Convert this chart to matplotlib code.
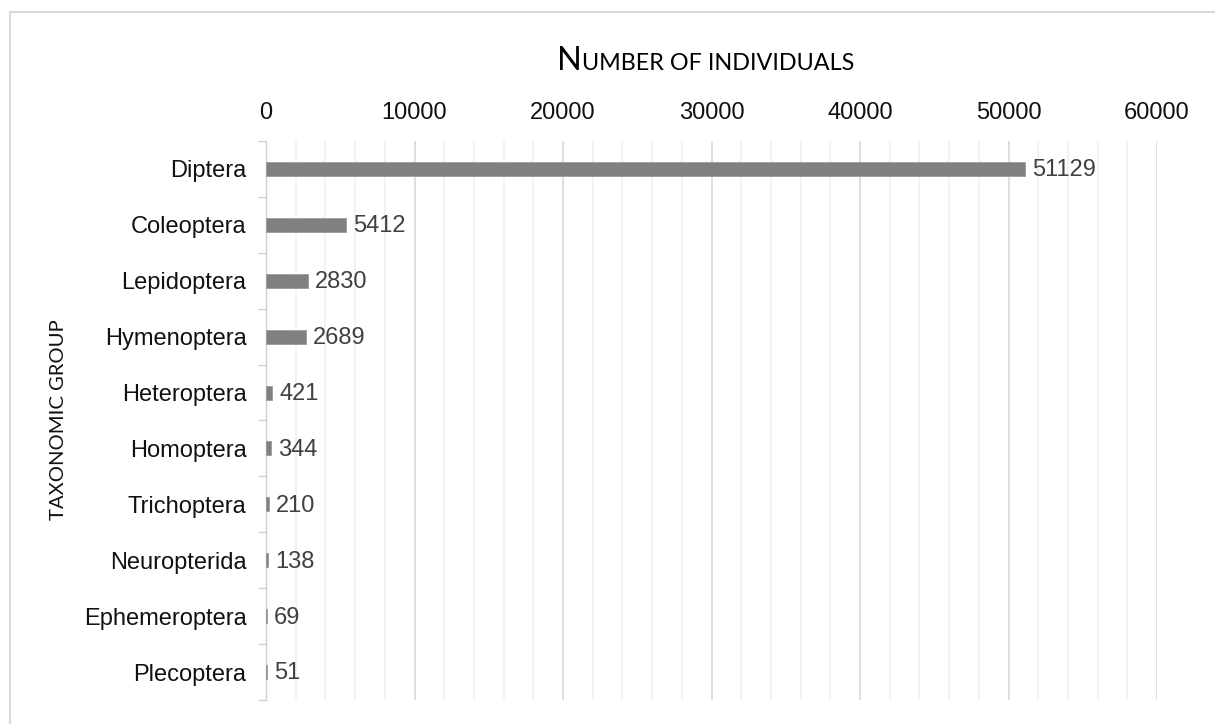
import matplotlib.pyplot as plt
import numpy as np
from matplotlib.offsetbox import TextArea, HPacker, AnnotationBbox
from matplotlib.patches import Rectangle

groups = ['Diptera', 'Coleoptera', 'Lepidoptera', 'Hymenoptera', 'Heteroptera',
          'Homoptera', 'Trichoptera', 'Neuropterida', 'Ephemeroptera', 'Plecoptera']
counts = [51129, 5412, 2830, 2689, 421, 344, 210, 138, 69, 51]
xticks = [0, 10000, 20000, 30000, 40000, 50000, 60000]

plt.rcParams['font.family'] = ['Liberation Sans', 'DejaVu Sans']

fig = plt.figure(figsize=(12.15, 7.24), dpi=100)
ax = fig.add_axes([266 / 1215, 1 - 700 / 724, (1157 - 266) / 1215, (700 - 141) / 724])

y = np.arange(len(groups))
ax.barh(y, counts, height=0.25, color='#808080', edgecolor='#9a9a9a', linewidth=0.6, zorder=3)
for yi, c in zip(y, counts):
    ax.annotate(str(c), (c, yi), xytext=(5, -1), textcoords='offset points',
                va='center', ha='left', fontsize=17, color='#404040')

ax.set_ylim(len(groups) - 0.5, -0.5)
ax.set_xlim(0, 60000)
ax.set_yticks(y)
ax.set_yticklabels(groups, fontsize=17, color='#111111')
ax.set_yticks(np.arange(-0.5, len(groups), 1), minor=True)
ax.tick_params(axis='y', which='major', length=0, pad=14)
ax.tick_params(axis='y', which='minor', length=6, color='#d0d0d0', width=1)

ax.xaxis.tick_top()
ax.set_xticks(xticks)
ax.set_xticklabels([str(t) for t in xticks], fontsize=17, color='#111111')
ax.set_xticks(np.arange(0, 60001, 2000), minor=True)
ax.tick_params(axis='x', which='both', length=0, pad=12)
ax.grid(axis='x', which='major', color='#d9d9d9', linewidth=1.2, zorder=0)
ax.grid(axis='x', which='minor', color='#f0f0f0', linewidth=1.2, zorder=0)

for s in ['top', 'right', 'bottom']:
    ax.spines[s].set_visible(False)
ax.spines['left'].set_color('#d0d0d0')
ax.spines['left'].set_linewidth(1)

# title in small caps
parts = [('N', 23.4), ('UMBER OF INDIVIDUALS', 16.8)]
areas = [TextArea(t, textprops=dict(fontsize=s, family='Lato', color='black')) for t, s in parts]
box = HPacker(children=areas, align='baseline', pad=0, sep=0)
fig.add_artist(AnnotationBbox(box, (706 / 1215, 1 - 61 / 724), xycoords='figure fraction',
                              frameon=False, box_alignment=(0.5, 0.5)))

fig.text(59 / 1215, 1 - 420 / 724, 'TAXONOMIC GROUP', rotation=90, fontsize=14.6,
         family='Lato', color='#111111', ha='center', va='center')

fig.add_artist(Rectangle((10 / 1215, -0.1), 1.2, 1 - 12 / 724 + 0.1, transform=fig.transFigure,
                         fill=False, edgecolor='#d9d9d9', linewidth=1.5))

fig.savefig('out.png', dpi=100)
